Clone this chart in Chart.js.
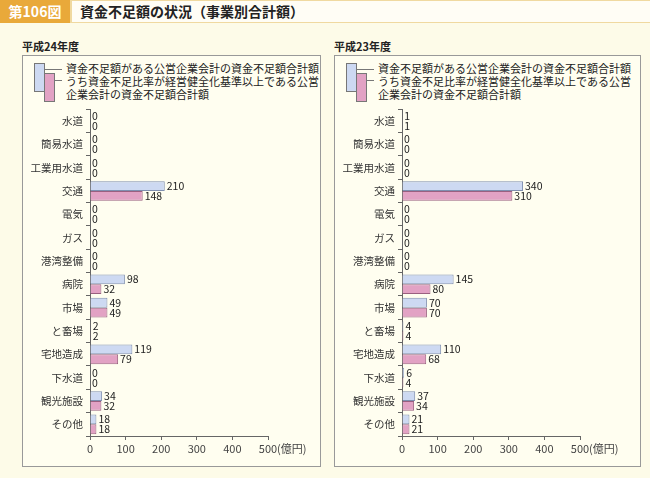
<!DOCTYPE html>
<html><head><meta charset="utf-8">
<script src="https://cdn.jsdelivr.net/npm/chart.js@4/dist/chart.umd.min.js"></script>
<style>
body{margin:0;width:650px;height:478px;background:#fdfbe8;font-family:"Noto Sans CJK JP",sans-serif;position:relative;overflow:hidden;color:#222}
#hdr{position:absolute;left:0;top:0;width:650px;height:23px;background:#f0d9a0}
#num{position:absolute;left:0;top:0;width:70px;height:23px;background:#e9a93a;color:#fff;font-size:14px;font-weight:bold;line-height:23px;text-align:center}
#ttl{position:absolute;left:72px;top:1px;width:578px;height:21px;background:#fffdf5;font-size:14px;font-weight:bold;line-height:21px;padding-left:8px}
.yr{position:absolute;top:38px;font-size:11px;font-weight:bold}
.box{position:absolute;top:55px;height:410px;border:1px solid #999;background:#fffef0}
.lg{position:absolute;font-size:11px;line-height:13px;color:#222;white-space:nowrap}
.sw{position:absolute;width:9px;height:27px;border:1px solid #777}
canvas{position:absolute}
</style></head><body>
<div id="hdr"></div><div id="num">第106図</div><div id="ttl">資金不足額の状況（事業別合計額）</div>
<div class="yr" style="left:22px">平成24年度</div>
<div class="yr" style="left:334px">平成23年度</div>
<div class="box" style="left:22px;width:297px"></div>
<div class="box" style="left:334px;width:305px"></div>
<div id="lg1"></div><div id="lg2"></div>
<canvas id="c1" width="300" height="366" style="left:22px;top:100px;width:300px;height:366px"></canvas>
<canvas id="c2" width="300" height="366" style="left:334px;top:100px;width:300px;height:366px"></canvas>
<script>
const categories=["水道","簡易水道","工業用水道","交通","電気","ガス","港湾整備","病院","市場","と畜場","宅地造成","下水道","観光施設","その他"];
const h24Total=[0,0,0,210,0,0,0,98,49,2,119,0,34,18];
const h24Sub=[0,0,0,148,0,0,0,32,49,2,79,0,32,18];
const h23Total=[1,0,0,340,0,0,0,145,70,4,110,6,37,21];
const h23Sub=[1,0,0,310,0,0,0,80,70,4,68,4,34,21];
const xTicks=[0,100,200,300,400,500];
const legend1="資金不足額がある公営企業会計の資金不足額合計額";
const legend2="うち資金不足比率が経営健全化基準以上である公営企業会計の資金不足額合計額";

function mkLegend(id,left){
  const d=document.getElementById(id);
  d.innerHTML=`<div class="sw" style="left:${left+12}px;top:63px;background:#cdd9f2"></div>
  <div class="sw" style="left:${left+22}px;top:73px;background:#e2a2c4"></div>
  <div style="position:absolute;left:${left+23}px;top:69px;width:17px;border-top:1px solid #777"></div>
  <div style="position:absolute;left:${left+33}px;top:80px;width:7px;border-top:1px solid #777"></div>
  <div class="lg" style="left:${left+44}px;top:62px">${legend1}<br>${legend2.slice(0,23)}<br>${legend2.slice(23)}</div>`;
}
mkLegend("lg1",22);mkLegend("lg2",334);

const labelPlugin={id:"lbl",afterDatasetsDraw(ch){
  const c=ch.ctx;c.save();c.font="10.5px 'Noto Sans CJK JP'";c.fillStyle="#222";c.textBaseline="middle";
  ch.data.datasets.forEach((ds,i)=>{ch.getDatasetMeta(i).data.forEach((b,j)=>{c.fillText(ds.data[j],b.x+2,b.y);});});
  const xs=ch.scales.x;c.fillStyle="#444";c.textBaseline="top";c.font="11px 'Noto Sans CJK JP'";
  c.fillText("(億円)",xs.getPixelForValue(500)+9,ch.chartArea.bottom+7);
  c.restore();}};

function mk(id,a,b){
  new Chart(document.getElementById(id),{type:"bar",
  data:{labels:categories,datasets:[
    {data:a,backgroundColor:"#cdd9f2",borderColor:"#7f8fb0",borderWidth:1,categoryPercentage:0.84,barPercentage:1},
    {data:b,backgroundColor:"#e2a2c4",borderColor:"#9a6080",borderWidth:1,categoryPercentage:0.84,barPercentage:1}]},
  options:{indexAxis:"y",responsive:false,animation:false,devicePixelRatio:1,
    layout:{padding:{top:5,right:54,left:0,bottom:0}},
    plugins:{legend:{display:false},tooltip:{enabled:false}},
    scales:{
      x:{min:0,max:500,afterBuildTicks(s){s.ticks=xTicks.map(v=>({value:v}));},
        afterFit(s){s.height=30;},
        grid:{drawOnChartArea:false,tickLength:4,color:"#666"},border:{color:"#666"},
        ticks:{color:"#444",font:{size:11,family:"Noto Sans CJK JP"},padding:2}},
      y:{afterFit(s){s.width=68;},grid:{offset:true,drawOnChartArea:false,tickLength:4,color:"#666"},border:{color:"#666"},
        ticks:{color:"#333",font:{size:10.5,family:"Noto Sans CJK JP"},padding:3}}
    }},plugins:[labelPlugin]});
}
mk("c1",h24Total,h24Sub);mk("c2",h23Total,h23Sub);
</script></body></html>
